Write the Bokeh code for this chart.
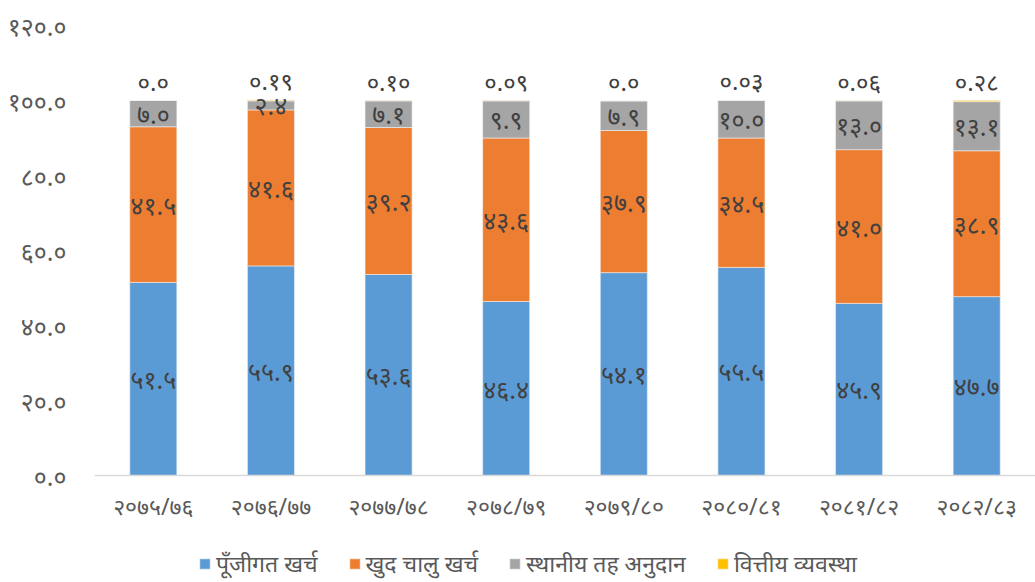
from bokeh.plotting import figure
from bokeh.models import ColumnDataSource, FactorRange, Legend, LegendItem, FixedTicker, Span, Range1d
from bokeh.core.properties import value
from bokeh.embed import file_html
from bokeh.resources import INLINE

years = ["२०७५/७६", "२०७६/७७", "२०७७/७८", "२०७८/७९", "२०७९/८०", "२०८०/८१", "२०८१/८२", "२०८२/८३"]
series_names = ["पूँजीगत खर्च", "खुद चालु खर्च", "स्थानीय तह अनुदान", "वित्तीय व्यवस्था"]
capital = [51.5, 55.9, 53.6, 46.4, 54.1, 55.5, 45.9, 47.7]
current = [41.5, 41.6, 39.2, 43.6, 37.9, 34.5, 41.0, 38.9]
local_grant = [7.0, 2.4, 7.1, 9.9, 7.9, 10.0, 13.0, 13.1]
financing = [0.0, 0.19, 0.10, 0.09, 0.0, 0.03, 0.06, 0.28]
capital_lbl = ["५१.५", "५५.९", "५३.६", "४६.४", "५४.१", "५५.५", "४५.९", "४७.७"]
current_lbl = ["४१.५", "४१.६", "३९.२", "४३.६", "३७.९", "३४.५", "४१.०", "३८.९"]
grant_lbl = ["७.०", "२.४", "७.१", "९.९", "७.९", "१०.०", "१३.०", "१३.१"]
fin_lbl = ["०.०", "०.१९", "०.१०", "०.०९", "०.०", "०.०३", "०.०६", "०.२८"]
y_ticks = [0, 20, 40, 60, 80, 100, 120]
y_tick_lbl = ["०.०", "२०.०", "४०.०", "६०.०", "८०.०", "१००.०", "१२०.०"]

colors = ["#5B9BD5", "#ED7D31", "#A5A5A5", "#FFC000"]
keys = ["capital", "current", "grant", "fin"]
FONT = "Noto Sans"

c1 = capital
c2 = [a + b for a, b in zip(c1, current)]
c3 = [a + b for a, b in zip(c2, local_grant)]
c4 = [a + b for a, b in zip(c3, financing)]

src = ColumnDataSource(dict(
    x=years, capital=capital, current=current, grant=local_grant, fin=financing,
    y_cap=[v / 2 for v in c1],
    y_cur=[(a + b) / 2 for a, b in zip(c1, c2)],
    y_gr=[(a + b) / 2 for a, b in zip(c2, c3)],
    y_fin=c4, y0=[0] * len(years),
    l_cap=capital_lbl, l_cur=current_lbl, l_gr=grant_lbl, l_fin=fin_lbl,
))

FRAME_H = 557
PX_PER_UNIT = 450 / 120
y_top = y_ticks[-1]
y_bottom = y_top - FRAME_H / PX_PER_UNIT

p = figure(x_range=FactorRange(*years, range_padding=0), y_range=Range1d(y_bottom, y_top),
           frame_width=941, frame_height=FRAME_H, output_backend="svg", toolbar_location=None,
           x_axis_location=None,
           min_border_left=94, min_border_right=0, min_border_top=25, min_border_bottom=0)

rs = p.vbar_stack(keys, x="x", width=0.4, color=colors, source=src,
                  line_color="#F2F2F2", line_width=0.6)

p.add_layout(Span(location=0, dimension="width", line_color="#D9D9D9", line_width=1.5))

for col, lab in [("y_cap", "l_cap"), ("y_cur", "l_cur"), ("y_gr", "l_gr")]:
    p.text(x="x", y=col, text=lab, source=src, text_align="center", text_baseline="middle",
           text_font=value(FONT), text_font_size="25px", text_color="#404040")
p.text(x="x", y="y_fin", text="l_fin", source=src, text_align="center", text_baseline="bottom",
       y_offset=-3, text_font=value(FONT), text_font_size="24px", text_color="#404040")

# category (x tick) labels under the baseline
p.text(x="x", y="y0", text="x", source=src, text_align="center", text_baseline="middle",
       y_offset=30, text_font=value(FONT), text_font_size="23px", text_color="#595959")

p.outline_line_color = None
p.xgrid.grid_line_color = None
p.ygrid.grid_line_color = None
p.background_fill_color = "white"
p.border_fill_color = "white"

p.yaxis.ticker = FixedTicker(ticks=y_ticks)
p.yaxis.major_label_overrides = {t: l for t, l in zip(y_ticks, y_tick_lbl)}
p.yaxis.axis_line_color = None
p.yaxis.major_tick_line_color = None
p.yaxis.minor_tick_line_color = None
p.yaxis.major_label_text_font = FONT
p.yaxis.major_label_text_font_size = "25px"
p.yaxis.major_label_text_color = "#595959"
p.yaxis.major_label_standoff = 22

legend = Legend(items=[LegendItem(label=n, renderers=[r]) for n, r in zip(series_names, rs)],
                orientation="horizontal", location=(104, 3),
                label_text_font=FONT, label_text_font_size="23px", label_text_color="#595959",
                label_height=16,
                glyph_width=13, glyph_height=13, spacing=30, label_standoff=5,
                border_line_color=None, background_fill_alpha=0, padding=0, margin=0)
p.add_layout(legend, "center")

open("out.html", "w").write(file_html(p, INLINE))
